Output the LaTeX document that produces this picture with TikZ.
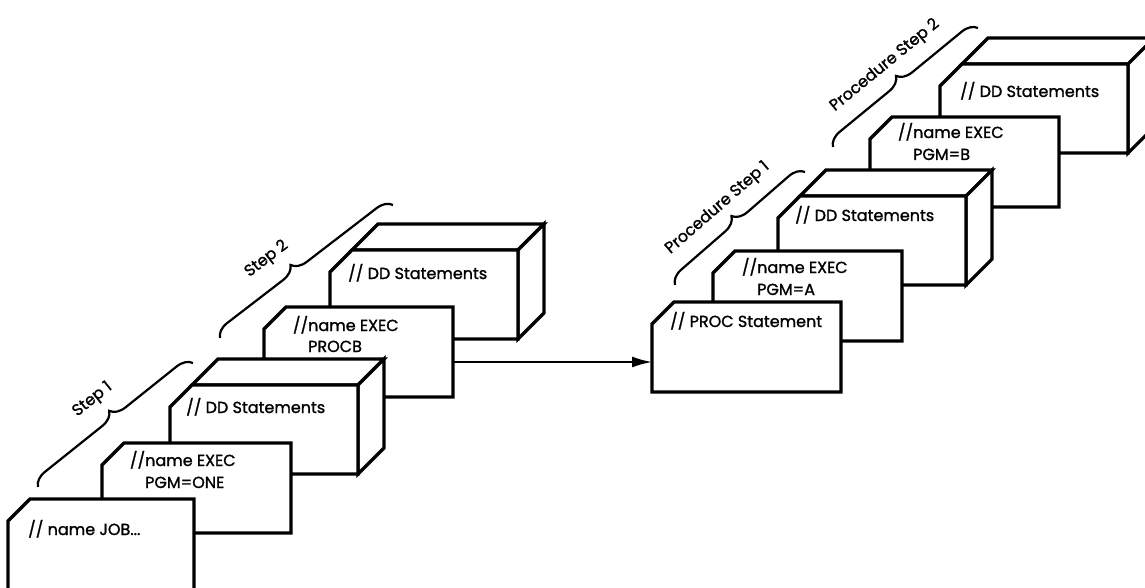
\documentclass[tikz,border=0pt]{standalone}
\usepackage{fontspec}
\setmainfont{Poppins}
\newfontfamily\lblfont[FakeBold=1.3]{Poppins}
\usetikzlibrary{arrows.meta,decorations.pathreplacing}
\begin{document}
\begin{tikzpicture}[x=1pt,y=-1pt,
  outline/.style={draw=black, fill=white, line width=3.2pt, line join=miter},
  lbl/.style={font=\lblfont\fontsize{16}{18}\selectfont, inner sep=0pt, anchor=base west},
  brlbl/.style={font=\lblfont\fontsize{16}{18}\selectfont, inner sep=0pt, sloped, above=#1},
  bracket/.style={draw=black, line width=2.2pt, decorate, decoration={brace, amplitude=15pt, aspect=#1}},
  flow/.style={draw=black, line width=2pt, -{Latex[length=20pt,width=11pt]}},
  pics/card/.style={code={
    \path[outline] (0,22) -- (22,0) -- (189,0) -- (189,90) -- (0,90) -- cycle;
    \coordinate (-e) at (189,55);
    \coordinate (-w) at (0,60);}},
  pics/block/.style={code={
    \path[outline] (22,0) -- (48,-26) -- (214,-26) -- (188,0) -- cycle;
    \path[outline] (188,0) -- (214,-26) -- (214,63) -- (188,89) -- cycle;
    \path[outline] (0,22) -- (22,0) -- (188,0) -- (188,89) -- (0,89) -- cycle;}}
]
\useasboundingbox (0,0) rectangle (1145,588);
\clip (0,0) rectangle (1145,588);

% ---------- right group (procedure) ----------
\pic (b4) at (940,64) {block};
\node[lbl] (tb4) at (960,97) {// DD Statements};
\pic (pgmb) at (870,117) {card};
\node[lbl] (tpgmb) at (913,138) {\llap{//}name EXEC};
\node[lbl] (tpgmb2) at (913,160) {PGM=B};
\pic (b3) at (778,196) {block};
\node[lbl] (tb3) at (795,221) {// DD Statements};
\pic (pgma) at (713,251) {card};
\node[lbl] (tpgma) at (757,273) {\llap{//}name EXEC};
\node[lbl] (tpgma2) at (757,295) {PGM=A};
\pic (proc) at (652,302) {card};
\node[lbl] (tproc) at (670,327) {// PROC Statement};

% ---------- left group (job) ----------
\pic (b2) at (330,250) {block};
\node[lbl] (tb2) at (348,279) {// DD Statements};
\pic (procb) at (264,307) {card};
\node[lbl] (tprocb) at (308,331) {\llap{//}name EXEC};
\node[lbl] (tprocb2) at (308,352) {PROCB};
\pic (b1) at (170,385) {block};
\node[lbl] (tb1) at (186,413) {// DD Statements};
\pic (one) at (102,443) {card};
\node[lbl] (tone) at (145,466) {\llap{//}name EXEC};
\node[lbl] (tone2) at (145,488) {PGM=ONE};
\path[outline] (8,521) -- (30,499) -- (194,499) -- (194,600) -- (8,600) -- cycle;
\node[lbl] (tjob) at (28,535) {// name JOB...};

% ---------- connector ----------
\draw[flow] (procb-e) -- (proc-w);

% ---------- braces ----------
\coordinate (s1a) at (38,487);  \coordinate (s1b) at (193,363);
\coordinate (s2a) at (220,338); \coordinate (s2b) at (393,205);
\coordinate (p1a) at (675,285); \coordinate (p1b) at (805,172);
\coordinate (p2a) at (833,147); \coordinate (p2b) at (978,28);
\draw[bracket=0.52] (s1a) -- (s1b) node[brlbl=25pt, pos=0.49] (ls1) {Step 1};
\draw[bracket=0.46] (s2a) -- (s2b) node[brlbl=25pt, pos=0.39] (ls2) {Step 2};
\draw[bracket=0.51] (p1a) -- (p1b) node[brlbl=21pt, pos=0.48] (lp1) {Procedure Step 1};
\draw[bracket=0.5] (p2a) -- (p2b) node[brlbl=21pt, pos=0.49] (lp2) {Procedure Step 2};
\end{tikzpicture}
\end{document}
